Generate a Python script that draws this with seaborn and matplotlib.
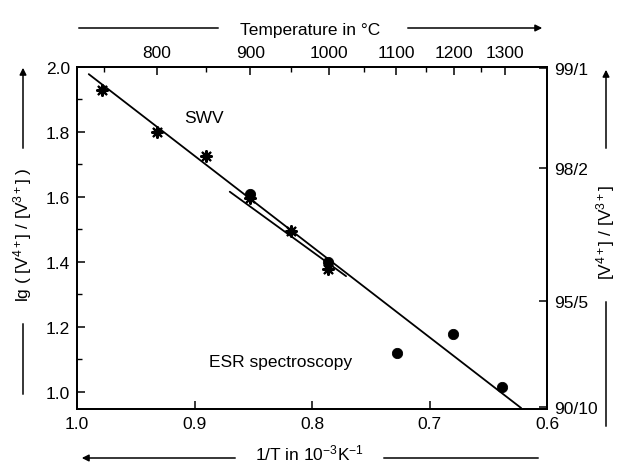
import numpy as np
import pandas as pd
import matplotlib
matplotlib.use("Agg")
import matplotlib.pyplot as plt
import seaborn as sns

# ---- data ----
swv_x = [0.979, 0.932, 0.890, 0.853, 0.818, 0.786]
swv_y = [1.930, 1.799, 1.727, 1.596, 1.496, 1.378]
esr_x = [0.853, 0.786, 0.728, 0.680, 0.638]
esr_y = [1.609, 1.399, 1.119, 1.178, 1.014]
fit1_x = [0.990, 0.622]
fit1_y = [1.978, 0.950]
fit2_x = [0.870, 0.771]
fit2_y = [1.616, 1.356]
x_ticks = [1.0, 0.9, 0.8, 0.7, 0.6]
x_ticklabels = ["1.0", "0.9", "0.8", "0.7", "0.6"]
y_ticks = [1.0, 1.2, 1.4, 1.6, 1.8, 2.0]
y_ticklabels = ["1.0", "1.2", "1.4", "1.6", "1.8", "2.0"]
temp_major = [800, 900, 1000, 1100, 1200, 1300]
temp_minor = [750, 850, 950, 1050, 1150, 1250]
ratio_v4 = [99, 98, 95, 90]
ratio_labels = ["99/1", "98/2", "95/5", "90/10"]

sns.set_style("ticks")
plt.rcParams["font.family"] = ["Liberation Sans", "DejaVu Sans"]
plt.rcParams["text.color"] = "black"
plt.rcParams["axes.labelcolor"] = "black"
plt.rcParams["xtick.color"] = "black"
plt.rcParams["ytick.color"] = "black"
plt.rcParams["mathtext.fontset"] = "custom"
plt.rcParams["mathtext.rm"] = "Liberation Sans"
plt.rcParams["mathtext.it"] = "Liberation Sans"
FS = 12.5

W, H = 619, 464
fig = plt.figure(figsize=(W / 100, H / 100), dpi=100)
L, R, T, B = 77, 547, 68, 410
ax = fig.add_axes([L / W, 1 - B / H, (R - L) / W, (B - T) / H])

df_swv = pd.DataFrame({"x": swv_x, "y": swv_y})
df_esr = pd.DataFrame({"x": esr_x, "y": esr_y})
df_f1 = pd.DataFrame({"x": fit1_x, "y": fit1_y})
df_f2 = pd.DataFrame({"x": fit2_x, "y": fit2_y})

sns.lineplot(data=df_f1, x="x", y="y", ax=ax, color="black", lw=1.3, sort=False, zorder=2)
sns.lineplot(data=df_f2, x="x", y="y", ax=ax, color="black", lw=1.3, sort=False, zorder=2)
sns.scatterplot(data=df_esr, x="x", y="y", ax=ax, color="black", s=55, marker="o",
                edgecolor="black", zorder=3)
sns.scatterplot(data=df_swv, x="x", y="y", ax=ax, color="black", s=60, marker=(8, 2, 0),
                linewidth=1.6, zorder=4)

ax.set_xlim(1.0, 0.6)
ax.set_ylim(0.947, 2.0)
ax.set_xticks(x_ticks)
ax.set_xticklabels(x_ticklabels, fontsize=FS)
ax.set_yticks(y_ticks)
ax.set_yticklabels(y_ticklabels, fontsize=FS)
ax.set_xticks([0.95, 0.85, 0.75, 0.65], minor=True)
ax.set_yticks([1.1, 1.3, 1.5, 1.7, 1.9], minor=True)
ax.tick_params(which="major", direction="in", length=6, width=1.1, colors="black", pad=5)
ax.tick_params(which="minor", direction="in", length=3.5, width=1.0, colors="black")
ax.set_xlabel("")
ax.set_ylabel("")
for s in ax.spines.values():
    s.set_visible(True)
    s.set_linewidth(1.2)
    s.set_color("black")

ax.text(0.892, 1.846, "SWV", fontsize=FS, ha="center", va="center")
ax.text(0.827, 1.092, "ESR spectroscopy", fontsize=FS, ha="center", va="center")

# top axis: temperature
axt = ax.twiny()
axt.set_xlim(ax.get_xlim())
axt.set_xticks([1000.0 / (t + 273.15) for t in temp_major])
axt.set_xticklabels([str(t) for t in temp_major], fontsize=FS)
axt.set_xticks([1000.0 / (t + 273.15) for t in temp_minor], minor=True)
axt.tick_params(which="major", direction="in", length=6, width=1.1, pad=5, colors="black")
axt.tick_params(which="minor", direction="in", length=3.5, width=1.0, colors="black")

# right axis: ratio
axr = ax.twinx()
axr.set_ylim(ax.get_ylim())
axr.set_yticks([np.log10(v / (100 - v)) for v in ratio_v4])
axr.set_yticklabels(ratio_labels, fontsize=FS)
axr.tick_params(which="major", direction="in", length=6, width=1.1, pad=5, colors="black")
axr.minorticks_off()
for a in (axt, axr):
    for s in a.spines.values():
        s.set_visible(True)
        s.set_linewidth(1.2)
        s.set_color("black")

def P(x, y):
    return (x, H - y)

arrowkw = dict(arrowstyle="-|>", color="black", lw=1.1, mutation_scale=10)
linekw = dict(arrowstyle="-", color="black", lw=1.1)

# top label
fig.text(310 / W, 1 - 30 / H, "Temperature in °C", fontsize=FS, ha="center", va="center")
ax.annotate("", xy=P(221, 29), xytext=P(76, 29), xycoords="figure pixels",
            textcoords="figure pixels", arrowprops=linekw)
ax.annotate("", xy=P(545, 29), xytext=P(405, 29), xycoords="figure pixels",
            textcoords="figure pixels", arrowprops=arrowkw)

# bottom label
fig.text(310 / W, 1 - 453 / H, r"1/T in 10$^{-3}$K$^{-1}$", fontsize=FS, ha="center", va="center")
ax.annotate("", xy=P(79, 459), xytext=P(238, 459), xycoords="figure pixels",
            textcoords="figure pixels", arrowprops=arrowkw)
ax.annotate("", xy=P(541, 459), xytext=P(381, 459), xycoords="figure pixels",
            textcoords="figure pixels", arrowprops=linekw)

# left label
fig.text(23 / W, 1 - 235 / H, r"lg ( [V$^{4+}$] / [V$^{3+}$] )", fontsize=FS,
         ha="center", va="center", rotation=90)
ax.annotate("", xy=P(23, 66), xytext=P(23, 152), xycoords="figure pixels",
            textcoords="figure pixels", arrowprops=arrowkw)
ax.annotate("", xy=P(23, 322), xytext=P(23, 398), xycoords="figure pixels",
            textcoords="figure pixels", arrowprops=linekw)

# right label
fig.text(606 / W, 1 - 233 / H, r"[V$^{4+}$] / [V$^{3+}$]", fontsize=FS,
         ha="center", va="center", rotation=90)
ax.annotate("", xy=P(606, 68), xytext=P(606, 152), xycoords="figure pixels",
            textcoords="figure pixels", arrowprops=arrowkw)
ax.annotate("", xy=P(606, 300), xytext=P(606, 430), xycoords="figure pixels",
            textcoords="figure pixels", arrowprops=linekw)

fig.savefig("out.png", dpi=100, facecolor="white")
